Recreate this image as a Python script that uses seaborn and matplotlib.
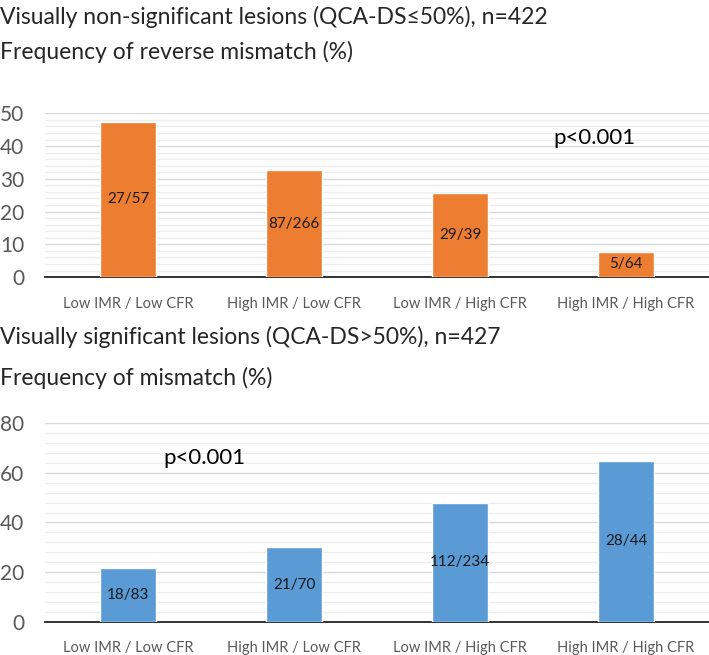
import pandas as pd
import seaborn as sns
import matplotlib.pyplot as plt
from matplotlib.ticker import MultipleLocator

groups = ["Low IMR / Low CFR", "High IMR / Low CFR", "Low IMR / High CFR", "High IMR / High CFR"]

# top panel: reverse mismatch, QCA-DS <= 50%
reverse_pct = [47.4, 32.7, 25.7, 7.8]
reverse_counts = ["27/57", "87/266", "29/39", "5/64"]

# bottom panel: mismatch, QCA-DS > 50%
mismatch_pct = [21.7, 30.0, 47.9, 64.9]
mismatch_counts = ["18/83", "21/70", "112/234", "28/44"]

sns.set_style("white")
plt.rcParams["font.family"] = ["Lato", "DejaVu Sans"]

fig = plt.figure(figsize=(7.09, 6.55), dpi=100)


def panel(ax, vals, counts, color, ymax, major, minor, ptxt_x, ptxt_y):
    df = pd.DataFrame({"group": groups, "pct": vals})
    sns.barplot(data=df, x="group", y="pct", color=color, saturation=1, width=0.34, ax=ax, zorder=3)
    ax.bar_label(ax.containers[0], labels=counts, label_type="center", fontsize=11, color="#1a1a1a")
    ax.set_xlim(-0.5, 3.5)
    ax.set_ylim(0, ymax)
    ax.yaxis.set_major_locator(MultipleLocator(major))
    ax.yaxis.set_minor_locator(MultipleLocator(minor))
    ax.grid(axis="y", which="major", color="#d9d9d9", linewidth=1.0, zorder=0)
    ax.grid(axis="y", which="minor", color="#ececec", linewidth=1.0, zorder=0)
    ax.set_axisbelow(True)
    for s in ["top", "right", "left"]:
        ax.spines[s].set_visible(False)
    ax.spines["bottom"].set_color("#222222")
    ax.spines["bottom"].set_linewidth(1.3)
    ax.tick_params(axis="y", which="both", length=0, labelsize=15, labelcolor="#595959", pad=15)
    ax.tick_params(axis="x", length=0, labelsize=10.5, labelcolor="#595959", pad=14)
    ax.set_xlabel("")
    ax.set_ylabel("")
    ax.text(ptxt_x, ptxt_y, "p<0.001", fontsize=16, ha="center", va="center", color="black")


ax1 = fig.add_axes([0.0635, 0.577, 0.9365, 0.250])
panel(ax1, reverse_pct, reverse_counts, "#ed7d31", 50, 10, 2, 2.81, 42.4)

ax2 = fig.add_axes([0.0635, 0.0504, 0.9365, 0.3038])
panel(ax2, mismatch_pct, mismatch_counts, "#5b9bd5", 80, 20, 4, 0.46, 65.9)

fig.text(0.0, 0.974, "Visually non-significant lesions (QCA-DS\u226450%), n=422", fontsize=16.5, va="center")
fig.text(0.0, 0.921, "Frequency of reverse mismatch (%)", fontsize=16.5, va="center")
fig.text(0.0, 0.486, "Visually significant lesions (QCA-DS>50%), n=427", fontsize=16.5, va="center")
fig.text(0.0, 0.423, "Frequency of mismatch (%)", fontsize=16.5, va="center")

fig.savefig("out.png", dpi=100)
